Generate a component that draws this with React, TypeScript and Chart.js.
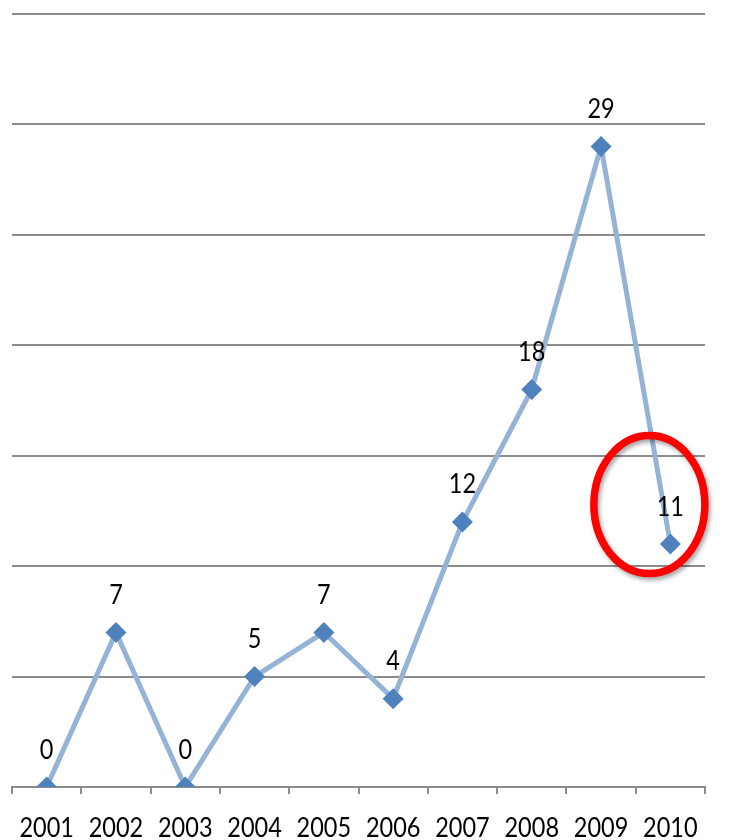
import React, { useEffect, useRef } from "react";
import { Chart, registerables } from "chart.js";

Chart.register(...registerables);

const years = ["2001", "2002", "2003", "2004", "2005", "2006", "2007", "2008", "2009", "2010"];
const counts = [0, 7, 0, 5, 7, 4, 12, 18, 29, 11];
const yTicks = [0, 5, 10, 15, 20, 25, 30, 35];

const FONT = '23.5px Lato, "Open Sans", sans-serif';
const TEXT_STRETCH = 1.14; // glyphs are drawn slightly tall
const GRID_COLOR = "#8c8c8c";
const LINE_COLOR = "#95b3d7";
const MARKER_COLOR = "#4f81bd";

function drawTallText(ctx: CanvasRenderingContext2D, text: string, x: number, baseline: number) {
  ctx.save();
  ctx.translate(x, baseline);
  ctx.scale(1, TEXT_STRETCH);
  ctx.fillText(text, 0, 0);
  ctx.restore();
}

// Year labels under the category axis
const yearLabels = {
  id: "yearLabels",
  afterDraw(chart: any) {
    const { ctx } = chart;
    const xScale = chart.scales.x;
    ctx.save();
    ctx.font = FONT;
    ctx.fillStyle = "#000";
    ctx.textAlign = "center";
    ctx.textBaseline = "alphabetic";
    years.forEach((label, i) => {
      drawTallText(ctx, label, xScale.getPixelForTick(i), xScale.top + 50);
    });
    ctx.restore();
  },
};

// Value labels above each marker
const valueLabels = {
  id: "valueLabels",
  afterDatasetsDraw(chart: any) {
    const { ctx } = chart;
    const meta = chart.getDatasetMeta(0);
    ctx.save();
    ctx.font = FONT;
    ctx.fillStyle = "#000";
    ctx.textAlign = "center";
    ctx.textBaseline = "alphabetic";
    meta.data.forEach((pt: any, i: number) => {
      drawTallText(ctx, String(counts[i]), pt.x, pt.y - 28.5);
    });
    ctx.restore();
  },
};

// Red ring highlighting the last year's point
const highlightRing = {
  id: "highlightRing",
  afterDatasetsDraw(chart: any) {
    const { ctx } = chart;
    const meta = chart.getDatasetMeta(0);
    const pt: any = meta.data[meta.data.length - 1];
    if (!pt) return;
    ctx.save();
    ctx.beginPath();
    ctx.ellipse(pt.x - 21, pt.y - 39.5, 55.5, 69, 0, 0, Math.PI * 2);
    ctx.strokeStyle = "#ff0000";
    ctx.lineWidth = 7.5;
    ctx.shadowColor = "rgba(0,0,0,0.35)";
    ctx.shadowBlur = 4;
    ctx.shadowOffsetX = 2;
    ctx.shadowOffsetY = 3;
    ctx.stroke();
    ctx.restore();
  },
};

export default function App() {
  const canvasRef = useRef<HTMLCanvasElement | null>(null);

  useEffect(() => {
    if (!canvasRef.current) return;
    const chart = new Chart(canvasRef.current, {
      type: "line",
      data: {
        labels: years,
        datasets: [
          {
            data: counts,
            borderColor: LINE_COLOR,
            borderWidth: 5,
            tension: 0,
            pointStyle: "rectRot",
            pointRadius: 10.5,
            pointBorderWidth: 0,
            pointBackgroundColor: MARKER_COLOR,
            pointBorderColor: MARKER_COLOR,
          },
        ],
      },
      options: {
        animation: false,
        responsive: true,
        maintainAspectRatio: false,
        layout: { padding: { left: 12, right: 26, top: 14, bottom: 0 } },
        plugins: {
          legend: { display: false },
          tooltip: { enabled: false },
          title: { display: false },
        },
        scales: {
          x: {
            type: "category",
            offset: true,
            grid: {
              offset: true,
              drawOnChartArea: false,
              drawTicks: true,
              tickLength: 7,
              color: GRID_COLOR,
              lineWidth: 2,
            },
            border: { display: true, color: GRID_COLOR, width: 2 },
            ticks: { display: false },
            afterFit(axis: any) {
              axis.height = 53;
            },
          },
          y: {
            min: 0,
            max: 35,
            afterBuildTicks(axis: any) {
              axis.ticks = yTicks.map((v) => ({ value: v }));
            },
            grid: { drawTicks: false, color: GRID_COLOR, lineWidth: 2 },
            border: { display: false },
            ticks: { display: false },
            afterFit(axis: any) {
              axis.width = 0;
            },
          },
        },
      },
      plugins: [highlightRing, valueLabels, yearLabels],
    });
    return () => chart.destroy();
  }, []);

  return (
    <div style={{ position: "fixed", left: 0, top: 0, width: 731, height: 840, background: "#fff" }}>
      <canvas ref={canvasRef} />
    </div>
  );
}
